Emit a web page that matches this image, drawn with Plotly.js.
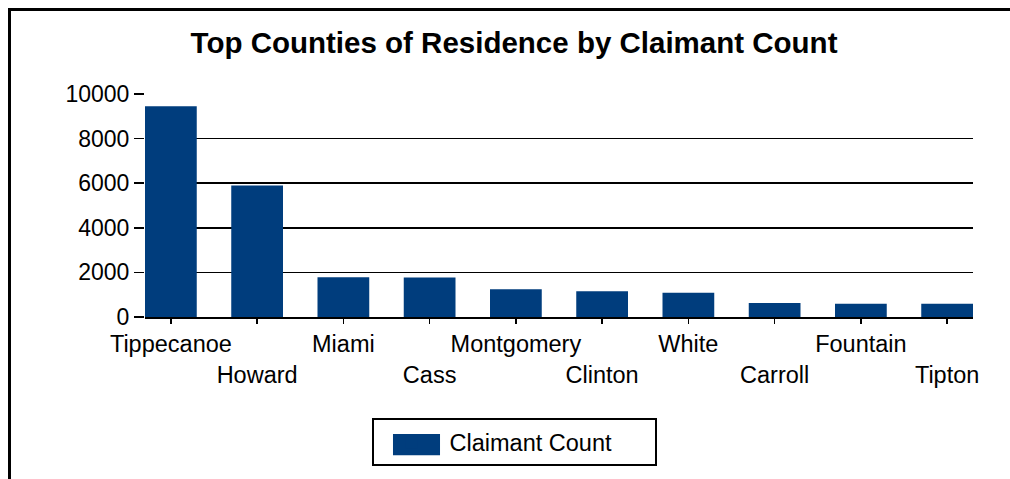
<!DOCTYPE html>
<html>
<head>
<meta charset="utf-8">
<script src="https://cdn.plot.ly/plotly-3.0.1.min.js"></script>
<style>
  html, body { margin: 0; padding: 0; background: #ffffff; }
  #frame {
    position: absolute; left: 8px; top: 8px;
    width: 1002px; height: 471px;
    border-top: 3px solid #000; border-left: 3px solid #000;
    box-sizing: border-box;
  }
  #chart { position: absolute; left: 0; top: 0; width: 999px; height: 468px; }
</style>
</head>
<body>
<div id="frame"><div id="chart"></div></div>
<script>
const counties = ["Tippecanoe", "Howard", "Miami", "Cass", "Montgomery", "Clinton", "White", "Carroll", "Fountain", "Tipton"];
const claimantCounts = [9450, 5900, 1780, 1770, 1250, 1160, 1090, 630, 590, 590];
const seriesName = "Claimant Count";
const yTickValues = [0, 2000, 4000, 6000, 8000, 10000];

const FONT = "'Liberation Sans', Arial, sans-serif";
const BAR_COLOR = "#003d7d";
const tickText = counties.map((c, i) => (i % 2 === 1 ? "<br>" + c : c));

const trace = {
  type: "bar",
  x: counties,
  y: claimantCounts,
  name: seriesName,
  width: 0.6,
  marker: { color: BAR_COLOR, line: { width: 0 } },
  showlegend: true,
  hoverinfo: "x+y"
};

const layout = {
  width: 999, height: 468,
  margin: { l: 134, r: 37, t: 83, b: 160 },
  paper_bgcolor: "#ffffff", plot_bgcolor: "#ffffff",
  font: { family: FONT, color: "#000000", size: 23 },
  title: {
    text: "<b>Top Counties of Residence by Claimant Count</b>",
    font: { family: FONT, size: 29.5, color: "#000000" },
    xref: "paper", x: 0.4457, xanchor: "center",
    yref: "container", y: 0.932, yanchor: "middle"
  },
  xaxis: {
    type: "category",
    range: [-0.3, 9.3],
    tickmode: "array",
    tickvals: counties,
    ticktext: tickText,
    tickangle: 0,
    automargin: false,
    ticks: "outside", ticklen: 5, tickwidth: 1.5, tickcolor: "#000",
    showline: true, linecolor: "#000", linewidth: 2,
    showgrid: false, zeroline: false,
    tickfont: { family: FONT, size: 23.5, color: "#000" },
    fixedrange: true
  },
  yaxis: {
    range: [0, 10000],
    tickmode: "array",
    tickvals: yTickValues,
    ticktext: yTickValues.map(String),
    ticks: "outside", ticklen: 10, tickwidth: 1.5, tickcolor: "#000",
    showgrid: true, gridcolor: "#000", gridwidth: 1.5,
    showline: false, zeroline: false,
    automargin: false,
    tickfont: { family: FONT, size: 23, color: "#000" },
    fixedrange: true
  },
  showlegend: true,
  legend: {
    orientation: "h",
    x: 0.4457, xanchor: "center",
    y: -0.455, yanchor: "top",
    bgcolor: "rgba(255,255,255,0)", bordercolor: "#000", borderwidth: 2,
    font: { family: FONT, size: 23.5, color: "#000" },
    itemwidth: 66,
    entrywidth: 200
  },
  shapes: [
    { // enlarged legend key swatch
      type: "rect", xref: "paper", yref: "paper", layer: "above",
      x0: 0.2995, x1: 0.3563, y0: -0.525, y1: -0.62,
      fillcolor: BAR_COLOR, line: { width: 0 }
    }
  ]
};

Plotly.newPlot("chart", [trace], layout, { displayModeBar: false, staticPlot: true });
</script>
</body>
</html>
